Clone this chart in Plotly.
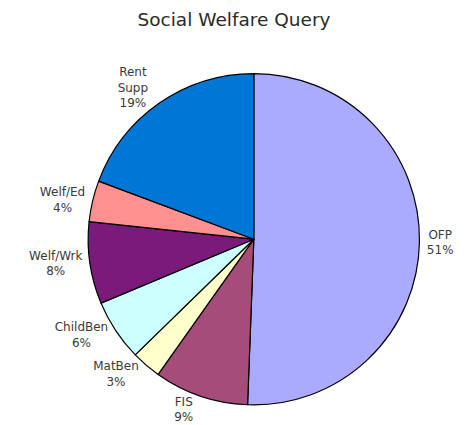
import plotly.graph_objects as go

categories = ["OFP", "FIS", "MatBen", "ChildBen", "Welf/Wrk", "Welf/Ed", "Rent Supp"]
display_names = ["OFP", "FIS", "MatBen", "ChildBen", "Welf/Wrk", "Welf/Ed", "Rent<br>Supp"]
values = [50.6, 9.2, 2.9, 6.0, 8.0, 4.0, 19.3]
colors = ["#AAAAFF", "#A64C7A", "#FFFFCC", "#CCFFFF", "#7A1A7A", "#FF9090", "#0077D5"]

fig = go.Figure(go.Pie(
    labels=categories,
    values=values,
    text=display_names,
    texttemplate="%{text}<br>%{percent:.0%}",
    textposition="outside",
    textfont=dict(family="DejaVu Sans", size=12, color="#3a3a3a"),
    marker=dict(colors=colors, line=dict(color="#000000", width=1.2)),
    sort=False,
    direction="clockwise",
    rotation=0,
    showlegend=False,
    automargin=False,
    domain=dict(x=[0.172, 0.883], y=[0.066, 0.846]),
    hoverinfo="label+percent",
))

fig.update_layout(
    width=466,
    height=425,
    margin=dict(l=0, r=0, t=0, b=0),
    paper_bgcolor="white",
    plot_bgcolor="white",
    title=dict(
        text="Social Welfare Query",
        x=0.485, xanchor="center",
        y=0.972, yanchor="middle",
        font=dict(family="DejaVu Sans", size=18.5, color="#2a2a2a"),
    ),
)

fig.write_html("out.html")
